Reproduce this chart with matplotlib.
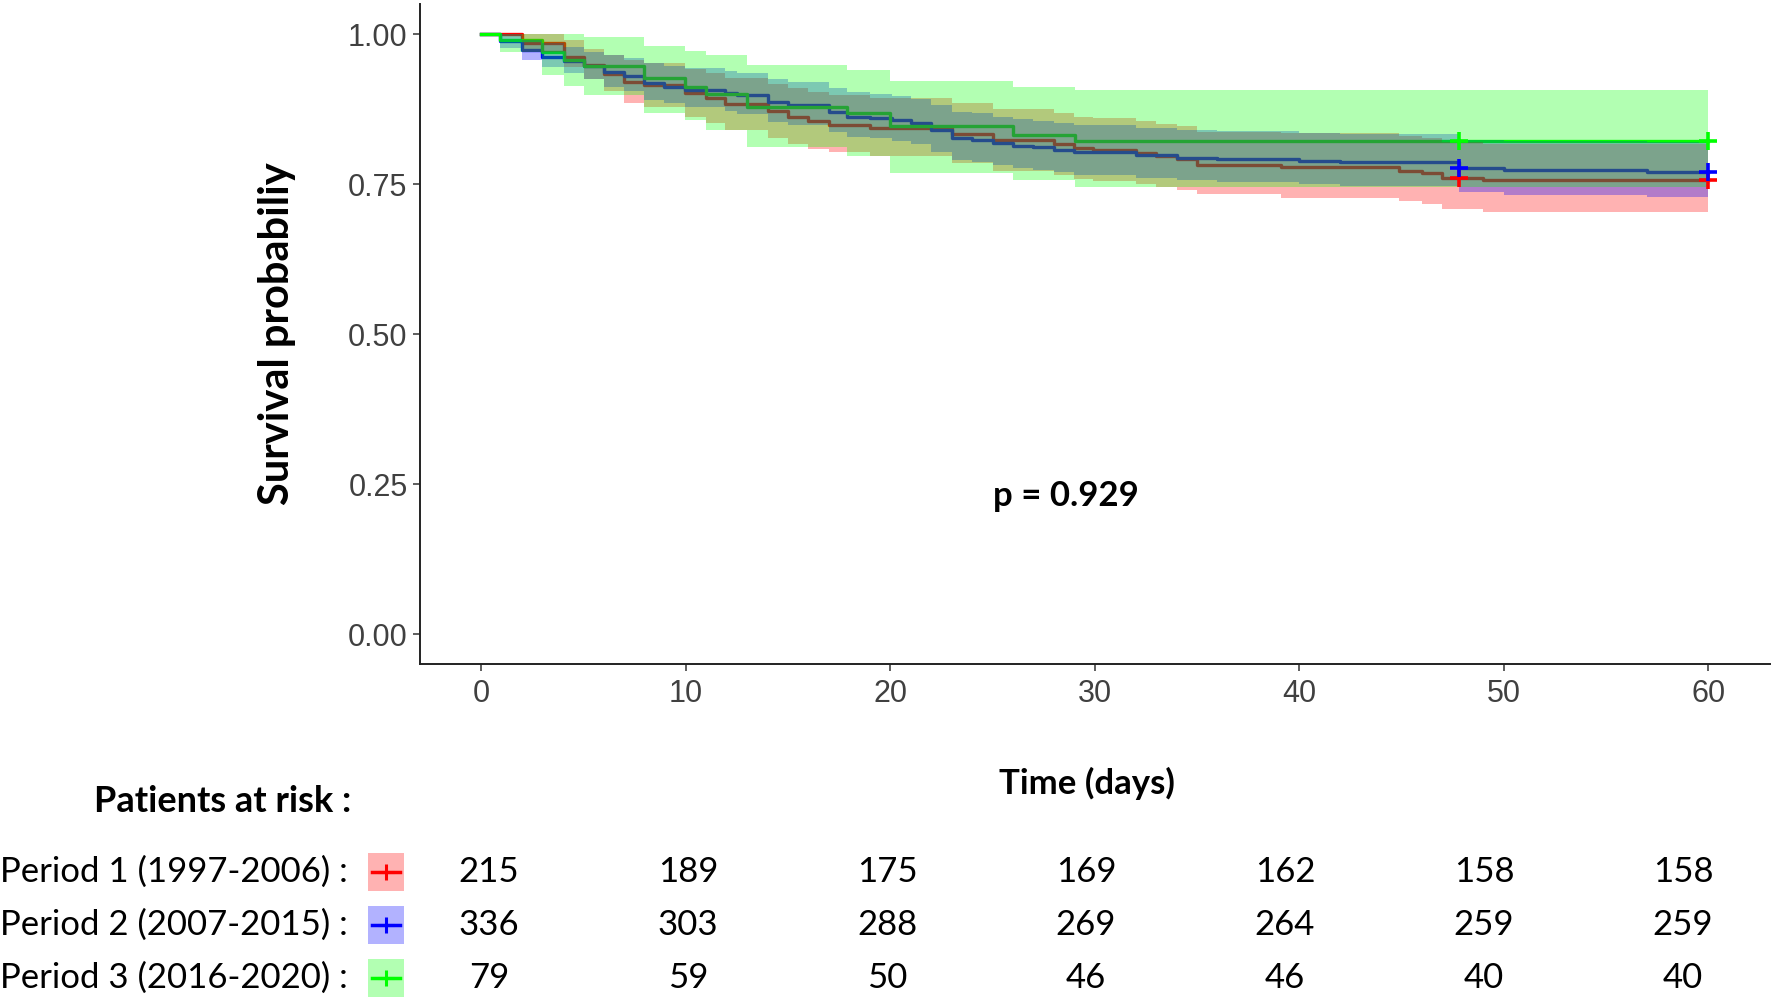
import numpy as np
import matplotlib
matplotlib.use("Agg")
import matplotlib.pyplot as plt
from matplotlib.patches import Rectangle
from matplotlib.transforms import blended_transform_factory

# Kaplan-Meier steps (time in days)
# Period 1 (red)
t_p1 = [0, 1.99, 4.03, 5.0, 5.99, 6.97, 7.94, 9.98, 11.0, 11.9, 14.0, 15.0, 16.0, 17.0, 19.0,
        23.0, 25.0, 28.0, 29.0, 29.9, 32.0, 33.0, 34.0, 35.0, 39.1, 44.9, 46.0, 47.0, 49.0, 60]
s_p1 = [1.0, 0.985, 0.962, 0.948, 0.934, 0.920, 0.915, 0.901, 0.893, 0.883, 0.871, 0.862, 0.855, 0.849, 0.844,
        0.834, 0.823, 0.816, 0.810, 0.807, 0.802, 0.796, 0.792, 0.782, 0.779, 0.772, 0.768, 0.760, 0.757, 0.757]
hi_p1 = [1.0, 1.0, 0.99, 0.975, 0.965, 0.957, 0.952, 0.942, 0.935, 0.927, 0.917, 0.91, 0.903, 0.898, 0.893,
         0.885, 0.875, 0.868, 0.862, 0.86, 0.855, 0.85, 0.846, 0.837, 0.835, 0.83, 0.826, 0.82, 0.817, 0.817]
lo_p1 = [1.0, 0.97, 0.945, 0.925, 0.905, 0.885, 0.878, 0.862, 0.852, 0.84, 0.827, 0.817, 0.808, 0.803, 0.797,
         0.785, 0.772, 0.765, 0.759, 0.755, 0.75, 0.745, 0.74, 0.733, 0.727, 0.722, 0.716, 0.709, 0.704, 0.704]

# Period 2 (blue)
t_p2 = [0, 0.9, 1.99, 2.97, 4.03, 5.0, 5.99, 6.97, 7.94, 8.92, 9.98, 11.9, 12.5, 14.0, 15.0, 17.0, 17.9, 19.0,
        20.1, 21.0, 22.0, 23.0, 24.0, 25.0, 26.0, 27.0, 28.0, 29.0, 32.0, 34.0, 36.0, 40.0, 42.0, 47.8, 50.0,
        57.0, 60]
s_p2 = [1.0, 0.988, 0.973, 0.962, 0.955, 0.946, 0.937, 0.930, 0.918, 0.912, 0.907, 0.902, 0.898, 0.886, 0.882,
        0.870, 0.862, 0.860, 0.857, 0.851, 0.840, 0.826, 0.824, 0.818, 0.814, 0.811, 0.807, 0.803, 0.798, 0.794,
        0.792, 0.789, 0.786, 0.777, 0.773, 0.770, 0.770]
hi_p2 = [1.0, 1.0, 0.99, 0.985, 0.978, 0.97, 0.965, 0.96, 0.952, 0.947, 0.943, 0.938, 0.935, 0.925, 0.92,
         0.91, 0.903, 0.9, 0.897, 0.892, 0.882, 0.87, 0.868, 0.862, 0.858, 0.855, 0.851, 0.848, 0.843, 0.84,
         0.838, 0.835, 0.833, 0.824, 0.821, 0.82, 0.82]
lo_p2 = [1.0, 0.976, 0.957, 0.945, 0.935, 0.925, 0.912, 0.905, 0.89, 0.885, 0.878, 0.872, 0.867, 0.853, 0.848,
         0.836, 0.828, 0.826, 0.822, 0.816, 0.804, 0.79, 0.787, 0.781, 0.777, 0.774, 0.770, 0.765, 0.76, 0.756,
         0.754, 0.750, 0.746, 0.737, 0.732, 0.728, 0.728]

# Period 3 (green)
t_p3 = [0, 0.93, 2.97, 4.03, 5.0, 7.94, 9.98, 11.0, 13.0, 17.9, 20.0, 26.0, 29.05, 60]
s_p3 = [1.0, 0.99, 0.97, 0.957, 0.946, 0.926, 0.911, 0.90, 0.879, 0.868, 0.846, 0.832, 0.822, 0.822]
hi_p3 = [1.0, 1.0, 1.0, 1.0, 0.995, 0.98, 0.972, 0.965, 0.948, 0.94, 0.922, 0.911, 0.907, 0.907]
lo_p3 = [1.0, 0.97, 0.932, 0.913, 0.898, 0.869, 0.856, 0.84, 0.812, 0.797, 0.769, 0.757, 0.745, 0.745]

cens_t = [47.8, 60.0]

labels = ['Period 1 (1997-2006) :', 'Period 2 (2007-2015) :', 'Period 3 (2016-2020) :']
colors = ['#FF0000', '#0000FF', '#00FF00']

risk_times = [0, 10, 20, 30, 40, 50, 60]
risk_p1 = [215, 189, 175, 169, 162, 158, 158]
risk_p2 = [336, 303, 288, 269, 264, 259, 259]
risk_p3 = [79, 59, 50, 46, 46, 40, 40]

p_text = 'p = 0.929'

curves = [(t_p1, s_p1, hi_p1, lo_p1), (t_p2, s_p2, hi_p2, lo_p2), (t_p3, s_p3, hi_p3, lo_p3)]
risks = [risk_p1, risk_p2, risk_p3]


def step_val(t, s, x):
    i = np.searchsorted(t, x, side='right') - 1
    return np.asarray(s)[i]


plt.rcParams['font.family'] = 'Lato'
W, H = 1771, 1000
fig = plt.figure(figsize=(W / 100, H / 100), dpi=100)

ax = fig.add_axes([420 / W, 1 - 664 / H, 1349.5 / W, 660 / H])
ax.set_xlim(-3, 63)
ax.set_ylim(-0.05, 1.05)

# lines first, ribbons over them, censor marks on top
for (t, s, hi, lo), c in zip(curves, colors):
    ax.step(t, s, where='post', color=c, lw=2.4, zorder=2)
for (t, s, hi, lo), c in zip(curves, colors):
    ax.fill_between(t, lo, hi, step='post', color=c, alpha=0.3, lw=0, zorder=3)
for (t, s, hi, lo), c in zip(curves, colors):
    ax.plot(cens_t, step_val(t, s, cens_t), ls='none', marker='+', ms=13, mew=2.6,
            color=c, zorder=4)

ax.text(25, 0.23, p_text, fontsize=25, fontweight='bold', ha='left', va='center')

ax.spines['top'].set_visible(False)
ax.spines['right'].set_visible(False)
for sp in ['left', 'bottom']:
    ax.spines[sp].set_linewidth(1.4)
    ax.spines[sp].set_color('#222222')
ax.set_xticks(risk_times)
ax.set_yticks([0, 0.25, 0.5, 0.75, 1.0])
ax.set_yticklabels(['0.00', '0.25', '0.50', '0.75', '1.00'])
ax.tick_params(length=5, width=1.1, color='#333333', labelcolor='#404040', labelsize=22)
ax.tick_params(axis='y', pad=4)
ax.tick_params(axis='x', pad=6)
for lab in ax.get_xticklabels() + ax.get_yticklabels():
    lab.set_fontfamily('Liberation Sans')

ax.set_ylabel('Survival probabiliy', fontsize=30, fontweight='bold', labelpad=37)
fig.text(1087 / W, 1 - 783 / H, 'Time (days)', fontsize=25, fontweight='bold', ha='center', va='center')

# risk table
fig.text(94 / W, 1 - 801 / H, 'Patients at risk :', fontsize=26, fontweight='bold', ha='left', va='center')

ax_t = fig.add_axes([0, 0, 1, 0.2])
ax_t.set_axis_off()
col_px = 19.9  # pixels per day in the table
ax_t.set_xlim(-489 / col_px, (W - 489) / col_px)
ax_t.set_ylim(1 + 128 / 53, 1 - 72 / 53)
tr = blended_transform_factory(ax_t.transAxes, ax_t.transData)

key_x = -5.18
key_w = 36 / col_px
key_h = 38 / 53
for r, (lab, c, risk) in enumerate(zip(labels, colors, risks), start=1):
    ax_t.text(0.0, r, lab, transform=tr, fontsize=25, ha='left', va='center')
    ax_t.add_patch(Rectangle((key_x - key_w / 2, r - key_h / 2), key_w, key_h,
                             facecolor=c, alpha=0.3, lw=0))
    ax_t.plot([key_x - key_w * 0.4, key_x + key_w * 0.4], [r, r], color=c, lw=2.5)
    ax_t.plot(key_x, r, marker='+', ms=11, mew=2.2, color=c)
    for d, n in zip(risk_times, risk):
        ax_t.text(d, r, str(n), fontsize=25, ha='center', va='center')

fig.savefig('out.png', dpi=100)
